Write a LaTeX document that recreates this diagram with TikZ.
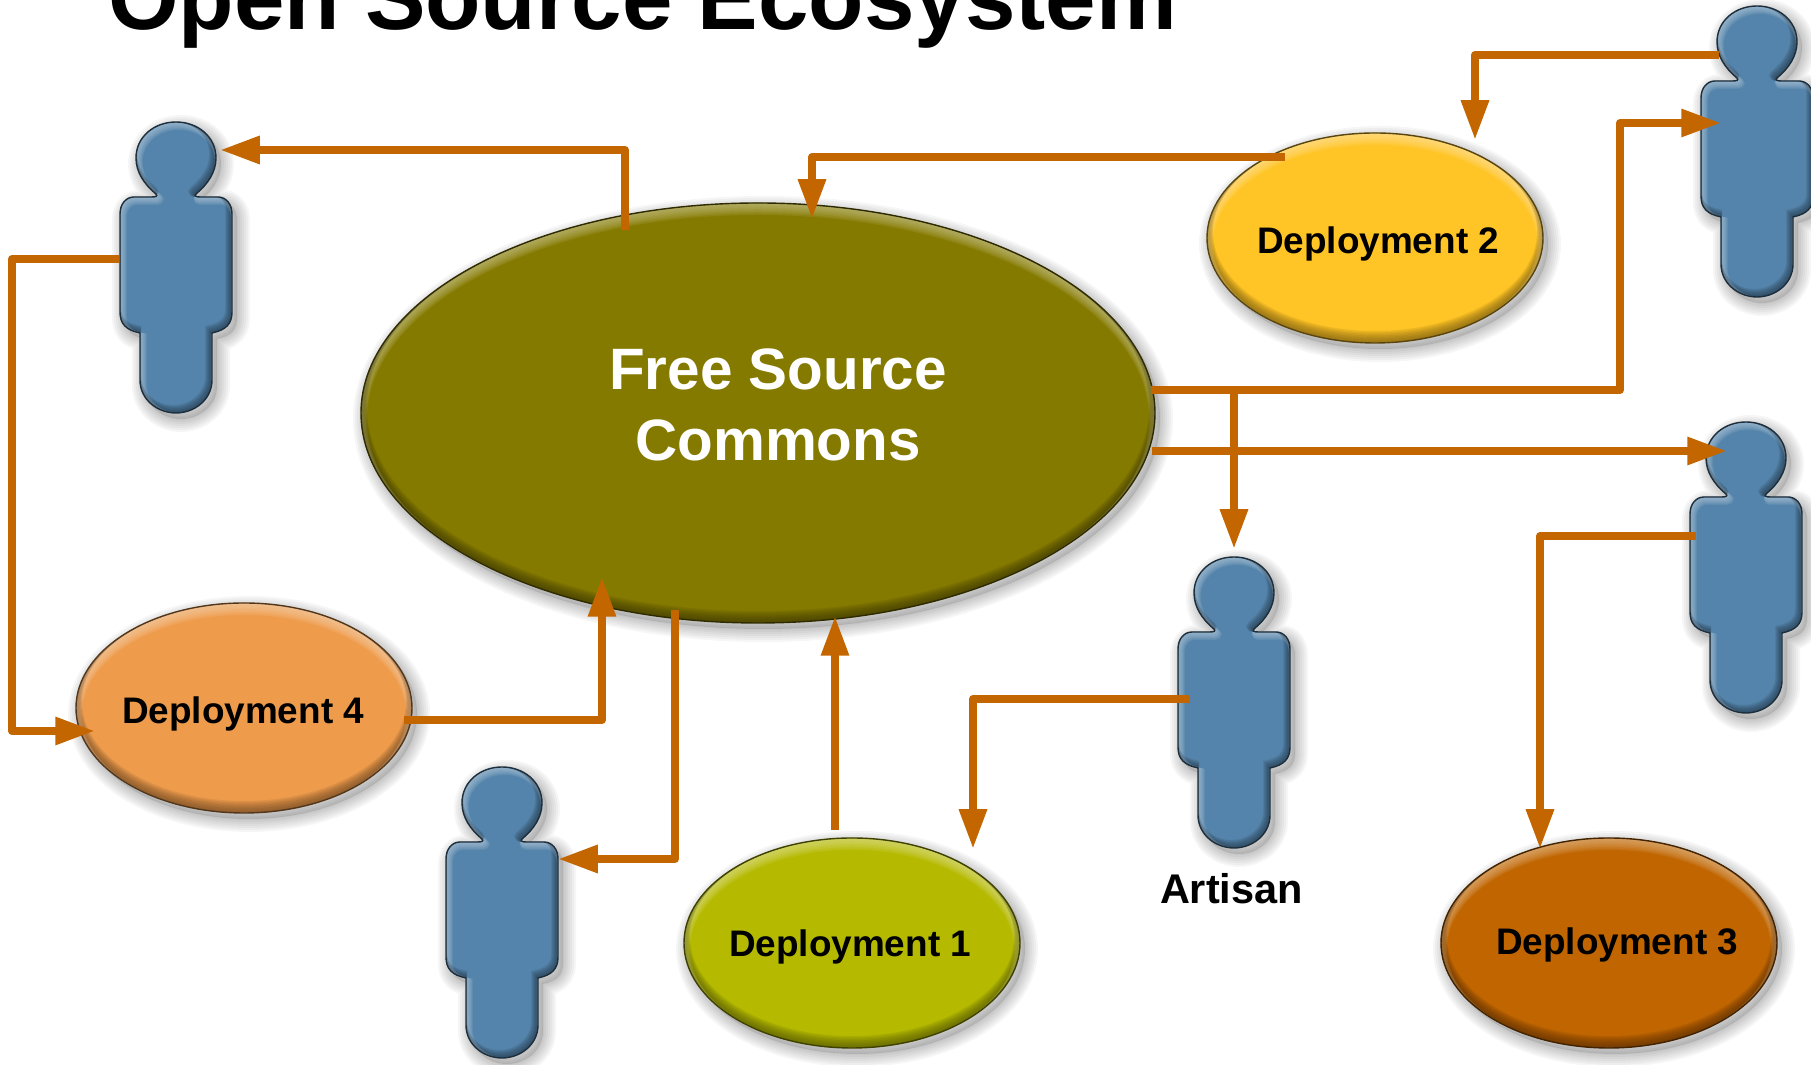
\documentclass[tikz,border=0pt]{standalone}
\usepackage{fontspec}
\setmainfont{Liberation Sans}
\usetikzlibrary{calc,arrows.meta,shapes.geometric}

\definecolor{linkcol}{HTML}{C36600}
\definecolor{personcol}{HTML}{5484AB}
\definecolor{commonscol}{HTML}{857A00}
\definecolor{yellowcol}{HTML}{FFC425}
\definecolor{orangecol}{HTML}{EE9C4C}
\definecolor{limecol}{HTML}{B5BA00}
\definecolor{rustcol}{HTML}{C06500}

\tikzset{
  link/.style={draw=linkcol,line width=2.27pt,line join=round},
  flow/.style={link,shorten >=-0.85pt,-{Triangle[length=11.3pt,width=7.5pt]}},
  holder/.style={inner sep=0pt,outer sep=0pt},
  title/.style={holder,anchor=base west,font=\bfseries\fontsize{25.8}{30}\selectfont},
  deploytext/.style={holder,anchor=base west,font=\bfseries\fontsize{10.5}{12}\selectfont},
  bigtext/.style={align=center,text=white,font=\bfseries\fontsize{16.6}{20.2}\selectfont}
}

%path, colour, sideways share of the bevel, bevel step
\newcommand{\softshape}[4]{
  \foreach \w in {26,22,18,14,10,6,2}
    \draw[shift={(5,6)},black,opacity=.035,line width={\w*0.2845pt},line join=round] #1;
  \fill[shift={(5,6)},black,opacity=.1] #1;
  \begin{scope}
    \clip #1;
    \fill[#2] #1;
    \foreach \i in {1,...,8} {
      \draw[shift={({#3*\i*#4},{\i*#4})},#2!45!white,opacity=.13,line width={2*\i*#4*0.2845pt}] #1;
      \draw[shift={({-#3*\i*#4},{-\i*#4})},#2!45!black,opacity=.13,line width={2*\i*#4*0.2845pt}] #1;
    }
  \end{scope}
  \draw[#2!35!black,line width=.4pt] #1;
}

\def\personpath{(-20,72) .. controls (-32,62) and (-40,50) .. (-40,36)
  .. controls (-40,15) and (-22,0) .. (0,0)
  .. controls (22,0) and (40,15) .. (40,36)
  .. controls (40,50) and (32,62) .. (20,72)
  .. controls (18,74) and (20,75) .. (24,75) -- (42,75)
  .. controls (50,75) and (56,82) .. (56,92) -- (56,190)
  .. controls (56,202) and (50,208) .. (36,211) -- (36,258)
  .. controls (36,278) and (18,291) .. (0,291)
  .. controls (-18,291) and (-36,278) .. (-36,258) -- (-36,211)
  .. controls (-50,208) and (-56,202) .. (-56,190) -- (-56,92)
  .. controls (-56,82) and (-50,75) .. (-42,75) -- (-24,75)
  .. controls (-20,75) and (-18,74) .. (-20,72) -- cycle}

\newcommand{\person}[3]{
  \begin{scope}[shift={(#2,#3)}]
    \softshape{\personpath}{personcol}{.7}{.5}
    \node[holder,minimum width=1.13cm,minimum height=2.91cm] (#1) at (0,146) {};
  \end{scope}
}

\newcommand{\deploy}[6]{
  \begin{scope}[shift={(#2,#3)}]
    \softshape{(0,0) ellipse [x radius=#4,y radius=#5]}{#6}{0}{.75}
    \node[holder,ellipse,minimum width=#4*0.02cm,minimum height=#5*0.02cm] (#1) at (0,0) {};
  \end{scope}
}

\begin{document}
\begin{tikzpicture}[x=0.01cm,y=-0.01cm]
\useasboundingbox (0,0) rectangle (1811,1065);

%Title
\node[title] (head) at (108,30) {Open Source Ecosystem};

%Ellipses
\deploy{commons}{758}{413}{397}{210}{commonscol}
\deploy{dOne}{852}{943}{168}{105}{limecol}
\deploy{dTwo}{1375}{238}{168}{105}{yellowcol}
\deploy{dThree}{1609}{943}{168}{105}{rustcol}
\deploy{dFour}{244}{708}{168}{105}{orangecol}

%People
\person{userA}{176}{122}
\person{userB}{1757}{6}
\person{userC}{1746}{422}
\person{artisan}{1234}{557}
\person{userD}{502}{767}

%Texts
\node[bigtext] (commonstext) at (778,405) {Free Source\\Commons};
\node[deploytext] (dOnetext) at (729,957) {Deployment 1};
\node[deploytext] (dTwotext) at (1257,254) {Deployment 2};
\node[deploytext] (dThreetext) at (1496,955) {Deployment 3};
\node[deploytext] (dFourtext) at (122,724) {Deployment 4};
\node[holder,anchor=base west,font=\bfseries\fontsize{11.8}{14}\selectfont] (artisantext) at (1160,904) {Artisan};

%Links
\draw[flow] ($(commons)+(-133,-183)$) |- ($(userA)+(47,-118)$);
\draw[flow] ($(userA)+(-57,-9)$) -- ++(-107,0) |- ($(dFour)+(-152,23)$);
\draw[flow] ($(dFour)+(160,12)$) -| ($(commons)+(-156,167)$);
\draw[flow] ($(commons)+(-83,197)$) |- ($(userD)+(59,-54)$);
\draw[flow] ($(dOne)+(-17,-113)$) -- ($(commons)+(77,206)$);
\draw[flow] ($(artisan)+(-44,-4)$) -| ($(dOne)+(121,-97)$);
\draw[flow] ($(commons)+(476,-23)$) -- ($(artisan)+(0,-157)$);
\draw[flow] ($(commons)+(393,-23)$) -- ++(469,0) |- ($(userB)+(-39,-29)$);
\draw[flow] ($(commons)+(394,38)$) -- ($(userC)+(-22,-117)$);
\draw[flow] ($(userC)+(-50,-32)$) -| ($(dThree)+(-69,-97)$);
\draw[flow] ($(userB)+(-38,-97)$) -| ($(dTwo)+(100,-101)$);
\draw[flow] ($(dTwo)+(-90,-81)$) -| ($(commons)+(54,-197)$);

\end{tikzpicture}
\end{document}
